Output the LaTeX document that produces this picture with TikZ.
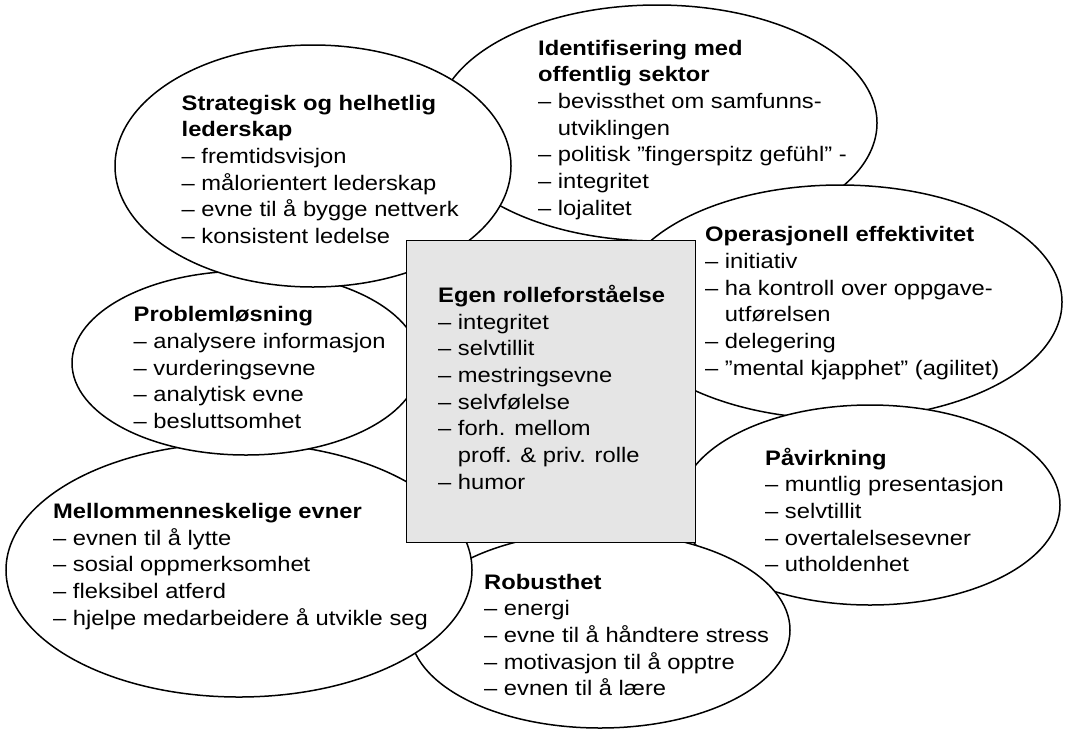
\documentclass[tikz,border=0pt]{standalone}
\usepackage{fontspec}
\setmainfont{Liberation Sans}[FakeStretch=1.13]
\usetikzlibrary{shapes.geometric}
\definecolor{boxgray}{RGB}{229,229,229}
\tikzset{
  bubble/.style={ellipse, draw=black, fill=white, line width=1.5pt, inner sep=0pt},
  blocktext/.style={anchor=base west, align=left, inner sep=0pt, font=\fontsize{21}{26.7}\selectfont},
  corebox/.style={draw=black, fill=boxgray, line width=1.3pt, inner sep=0pt, anchor=north west},
}
\newcommand{\ind}{\phantom{– }}
\begin{document}
\begin{tikzpicture}[x=1pt, y=-1pt]
\useasboundingbox (0,0) rectangle (1065,729);
% Identifisering
\node[bubble, minimum width=440pt, minimum height=236pt] (ident) at (657,123) {};
\node[blocktext] (identtxt) at (538,55+6*26.7) {\textbf{Identifisering med}\\\textbf{offentlig sektor}\\– bevissthet om samfunns-\\\ind utviklingen\\– politisk ”fingerspitz gefühl” -\\– integritet\\– lojalitet};
% Operasjonell
\node[bubble, minimum width=444pt, minimum height=234pt] (oper) at (840,302) {};
\node[blocktext] (opertxt) at (705,241.7+5*26.7) {\textbf{Operasjonell effektivitet}\\– initiativ\\– ha kontroll over oppgave-\\\ind utførelsen\\– delegering\\– ”mental kjapphet” (agilitet)};
% Påvirkning
\node[bubble, minimum width=380pt, minimum height=200pt] (pav) at (870,505) {};
\node[blocktext] (pavtxt) at (765,465+4*26.7) {\textbf{Påvirkning}\\– muntlig presentasjon\\– selvtillit\\– overtalelsesevner\\– utholdenhet};
% Robusthet
\node[bubble, minimum width=380pt, minimum height=196pt] (rob) at (600,630) {};
\node[blocktext] (robtxt) at (484,589+4*26.7) {\textbf{Robusthet}\\– energi\\– evne til å håndtere stress\\– motivasjon til å opptre\\– evnen til å lære};
% Mellommenneskelige
\node[bubble, minimum width=466pt, minimum height=254pt] (mell) at (239,570) {};
\node[blocktext] (melltxt) at (53,518.3+4*26.7) {\textbf{Mellommenneskelige evner}\\– evnen til å lytte\\– sosial oppmerksomhet\\– fleksibel atferd\\– hjelpe medarbeidere å utvikle seg};
% Problemløsning
\node[bubble, minimum width=348pt, minimum height=184pt] (prob) at (246,363) {};
\node[blocktext] (probtxt) at (133.5,321.7+4*26.7) {\textbf{Problemløsning}\\– analysere informasjon\\– vurderingsevne\\– analytisk evne\\– besluttsomhet};
% Strategisk
\node[bubble, minimum width=396pt, minimum height=242pt] (strat) at (313,166) {};
\node[blocktext] (strattxt) at (181.5,110+5*26.7) {\textbf{Strategisk og helhetlig}\\\textbf{lederskap}\\– fremtidsvisjon\\– målorientert lederskap\\– evne til å bygge nettverk\\– konsistent ledelse};
% Core box
\node[corebox, minimum width=289pt, minimum height=302pt] (core) at (406,240) {};
\node[blocktext] (coretxt) at (438,302.3+7*26.7) {\textbf{Egen rolleforståelse}\\– integritet\\– selvtillit\\– mestringsevne\\– selvfølelse\\– forh. mellom\\\ind proff. \& priv. rolle\\– humor};
\end{tikzpicture}
\end{document}
